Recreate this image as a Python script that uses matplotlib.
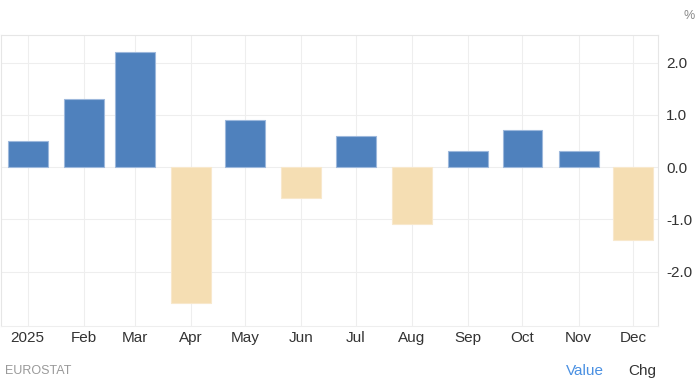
import datetime as dt
import matplotlib.pyplot as plt

months = ["2025", "Feb", "Mar", "Apr", "May", "Jun", "Jul", "Aug", "Sep", "Oct", "Nov", "Dec"]
dates = [dt.datetime(2025, m, 1) for m in range(1, 13)]
changes = [0.5, 1.3, 2.2, -2.6, 0.9, -0.6, 0.6, -1.1, 0.3, 0.7, 0.3, -1.4]

plt.rcParams['font.family'] = ['Liberation Sans', 'DejaVu Sans']

fig = plt.figure(figsize=(7, 3.87), dpi=100)
ax = fig.add_axes([0.001, 0.158, 0.939, 0.752])

colors = ['#4f81bd' if v >= 0 else '#f5deb3' for v in changes]
edges = ['#9db8dc' if v >= 0 else '#f8e8cc' for v in changes]
ax.bar(dates, changes, width=22, color=colors, edgecolor=edges, linewidth=0.8, zorder=3)

ax.set_xlim(dates[0] - dt.timedelta(days=14.9), dates[-1] + dt.timedelta(days=13.8))
ax.set_ylim(-3.04, 2.53)
ax.set_xticks(dates)
ax.set_xticklabels(months)
ax.set_yticks([-2, -1, 0, 1, 2])
ax.set_yticklabels(["-2.0", "-1.0", "0.0", "1.0", "2.0"])
ax.yaxis.tick_right()
ax.tick_params(axis='both', length=0, labelsize=11, colors='#333333')
ax.tick_params(axis='x', pad=4)
ax.tick_params(axis='y', pad=6)

ax.grid(True, color='#eeeeee', linewidth=0.8, zorder=0)
for s in ['top', 'left', 'right']:
    ax.spines[s].set_color('#e6e6e6')
ax.spines['bottom'].set_color('#eeeeee')

fig.text(683 / 700, 1 - 16 / 387, "%", fontsize=9, color='#888888', ha='left', va='center')
fig.text(5 / 700, 1 - 371 / 387, "EUROSTAT", fontsize=9, color='#999999', ha='left', va='center')
fig.text(566 / 700, 1 - 371 / 387, "Value", fontsize=11, color='#4a90e2', ha='left', va='center')
fig.text(628 / 700, 1 - 371 / 387, "Chg", fontsize=11, color='#333333', ha='left', va='center')

plt.savefig("out.png", dpi=100)
